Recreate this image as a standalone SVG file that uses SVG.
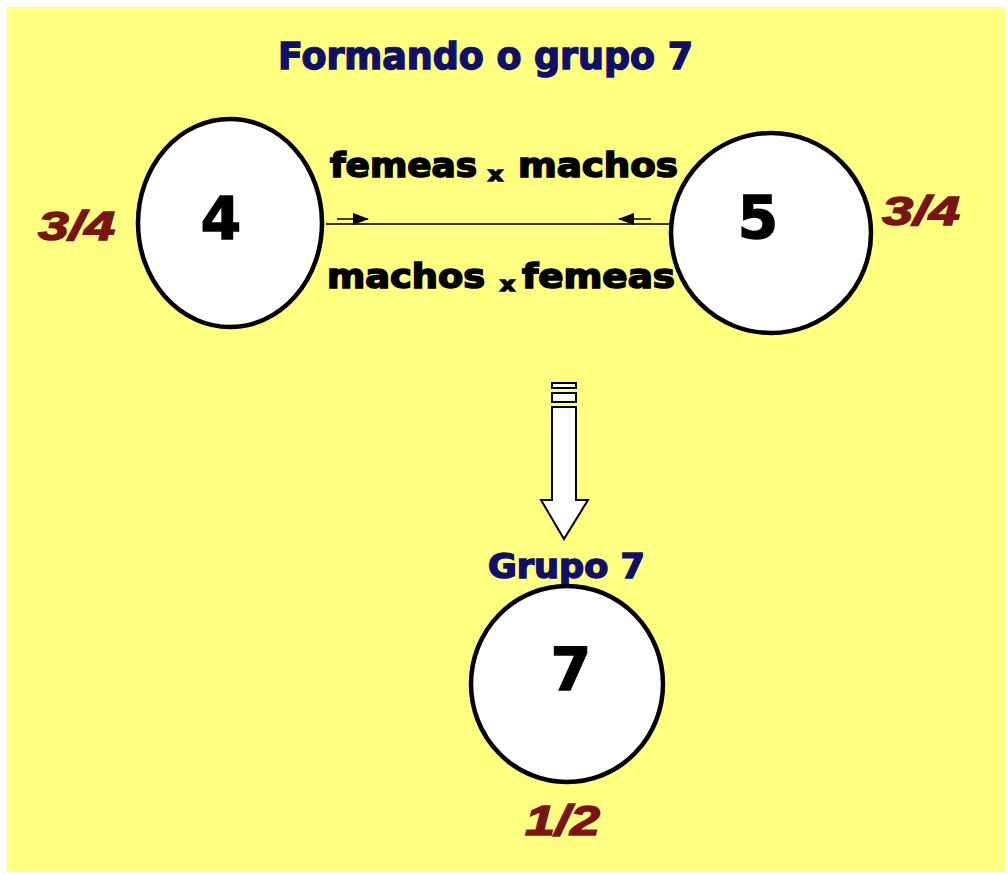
<svg xmlns="http://www.w3.org/2000/svg" width="1008" height="874" viewBox="0 0 1008 874">
<style>
.bg{fill:#FFFF80}
.node{fill:#FFFFFF;stroke:#000;stroke-width:4.5}
.heavy{font-family:"DejaVu Sans","Liberation Sans",sans-serif;font-weight:bold}
.navy{fill:#10106B;stroke:#10106B;stroke-width:1.5}
.blk{fill:#000;stroke:#000;stroke-width:1.6}
.frac{font-family:"Liberation Sans","DejaVu Sans",sans-serif;font-weight:bold;font-style:italic;fill:#7A1414;stroke:#7A1414;stroke-width:1.4}
.lbl{font-size:33px}
.big{font-size:58px}
.conn{stroke:#333;stroke-width:2;fill:none}
</style>
<defs>
<marker id="ah" markerWidth="16" markerHeight="12" refX="15" refY="6" orient="auto" markerUnits="userSpaceOnUse">
<path d="M0,0 L16,6 L0,12 Z" fill="#000"/>
</marker>
</defs>
<rect x="0" y="0" width="1008" height="874" fill="#FFFFFF"/>
<rect class="bg" x="7" y="7" width="998" height="865"/>

<text class="heavy navy" x="278" y="69" font-size="38" textLength="415" lengthAdjust="spacingAndGlyphs">Formando o grupo 7</text>

<g id="connectors">
<line class="conn" x1="326" y1="224" x2="671" y2="224"/>
<line x1="337" y1="219" x2="368" y2="219" stroke="#000" stroke-width="1.5" marker-end="url(#ah)"/>
<line x1="651" y1="219" x2="619" y2="219" stroke="#000" stroke-width="1.5" marker-end="url(#ah)"/>
<g id="down-arrow" fill="#FFFFFF" stroke="#000" stroke-width="2">
<rect x="552" y="383" width="24" height="5"/>
<rect x="552" y="393" width="24" height="9"/>
<path d="M552,407 L576,407 L576,500 L588,500 L564,539 L541,500 L552,500 Z"/>
</g>
</g>

<g id="labels-top">
<text class="heavy blk lbl" x="330" y="177" textLength="147" lengthAdjust="spacingAndGlyphs">femeas</text>
<text class="heavy blk" x="488" y="181" font-size="20" textLength="15" lengthAdjust="spacingAndGlyphs">x</text>
<text class="heavy blk lbl" x="518" y="177" textLength="160" lengthAdjust="spacingAndGlyphs">machos</text>
</g>
<g id="labels-bottom">
<text class="heavy blk lbl" x="327" y="288" textLength="158" lengthAdjust="spacingAndGlyphs">machos</text>
<text class="heavy blk" x="500" y="291" font-size="20" textLength="15" lengthAdjust="spacingAndGlyphs">x</text>
<text class="heavy blk lbl" x="522" y="288" textLength="153" lengthAdjust="spacingAndGlyphs">femeas</text>
</g>

<g id="node-4">
<ellipse class="node" cx="230" cy="223" rx="92" ry="104"/>
<text class="heavy blk big" x="221" y="239" text-anchor="middle">4</text>
<text class="frac" x="38" y="240" font-size="40" textLength="77" lengthAdjust="spacingAndGlyphs">3/4</text>
</g>

<g id="node-5">
<ellipse class="node" cx="771" cy="233" rx="100" ry="100"/>
<text class="heavy blk big" x="758" y="238" text-anchor="middle">5</text>
<text class="frac" x="882" y="225" font-size="40" textLength="78" lengthAdjust="spacingAndGlyphs">3/4</text>
</g>

<g id="node-7">
<text class="heavy navy" x="488" y="578" font-size="33" textLength="157" lengthAdjust="spacingAndGlyphs">Grupo 7</text>
<ellipse class="node" cx="567" cy="684" rx="96" ry="98"/>
<text class="heavy blk big" x="571" y="690" text-anchor="middle">7</text>
<text class="frac" x="525" y="835" font-size="42" textLength="75" lengthAdjust="spacingAndGlyphs">1/2</text>
</g>
</svg>
